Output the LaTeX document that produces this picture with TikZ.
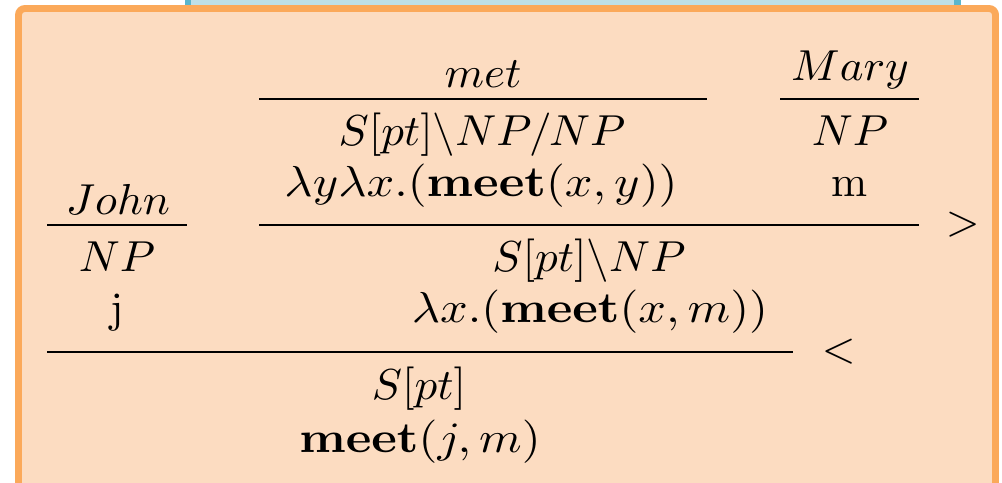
\documentclass[tikz,border=0pt]{standalone}
\usepackage{graphicx}
\usetikzlibrary{positioning}
\definecolor{boxorange}{HTML}{FBA95A}
\definecolor{paleorange}{HTML}{FCDCC1}
\definecolor{boxblue}{HTML}{5AB6CC}
\definecolor{paleblue}{HTML}{BEE0E8}
\newcommand{\catrow}[1]{\scalebox{1.04}[1]{#1}}
\newcommand{\semrow}[1]{\scalebox{1.12}[1]{#1}}

\begin{document}
\begin{tikzpicture}[x=0.2308pt, y=-0.2308pt,
    every node/.style={inner sep=0pt, anchor=base},
    barline/.style={line width=0.45pt}]
      \useasboundingbox (0,0) rectangle (1002,483);
      \clip (0,0) rectangle (1002,483);
      % Blue frame peeking out above
      \draw[boxblue, fill=paleblue, line width=1.6pt] (188,-40) rectangle (957.5,40);
      % Orange frame
      \draw[boxorange, fill=paleorange, line width=1.6pt,
            rounded corners=1.5pt] (18.5,8.5) rectangle (995.5,540);
      % Lexical entries
      \node (met) at (483,88) {\catrow{$met$}};
      \node (mary) at (850,81) {\catrow{$Mary$}};
      \node (john) at (118,215) {\catrow{$John$}};
      \coordinate (metl) at (259,99);
      \coordinate (metr) at (707,99);
      \coordinate (maryl) at (780,99);
      \coordinate (maryr) at (919,99);
      \coordinate (johnl) at (47,225);
      \coordinate (johnr) at (187,225);
      \draw[barline] (metl) -- (metr);
      \draw[barline] (maryl) -- (maryr);
      \draw[barline] (johnl) -- (johnr);
      \node (metcat) at (482,146) {\catrow{$S[pt]\backslash NP/NP$}};
      \node (metsem) at (481,197) {\semrow{$\lambda y\lambda x.(\mathbf{meet}(x,y))$}};
      \node (marycat) at (850,146) {\catrow{$NP$}};
      \node (marysem) at (850,197) {m};
      \node (johncat) at (117,272) {\catrow{$NP$}};
      \node (johnsem) at (117,323) {j};
      % Forward application
      \coordinate (fwdl) at (259,225);
      \coordinate (fwdr) at (919,225);
      \draw[barline] (fwdl) -- (fwdr);
      \node[anchor=west] (fwd) at (945,225) {$>$};
      \node (vpcat) at (589,272) {\catrow{$S[pt]\backslash NP$}};
      \node (vpsem) at (590,323) {\semrow{$\lambda x.(\mathbf{meet}(x,m))$}};
      % Backward application
      \coordinate (bwdl) at (47,352);
      \coordinate (bwdr) at (793,352);
      \draw[barline] (bwdl) -- (bwdr);
      \node[anchor=west] (bwd) at (821,352) {$<$};
      \node (scat) at (419,400) {\catrow{$S[pt]$}};
      \node (ssem) at (420,452) {\semrow{$\mathbf{meet}(j,m)$}};
\end{tikzpicture}
\end{document}
